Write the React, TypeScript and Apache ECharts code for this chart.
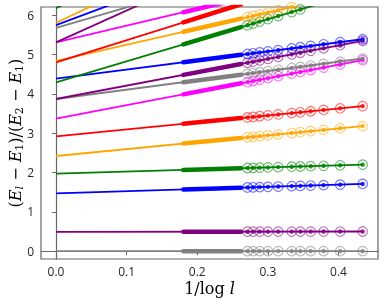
import React, { useEffect, useRef } from 'react';
import * as echarts from 'echarts';

const colors = ['#808080', '#800080', '#0000ff', '#008000', '#ffa500', '#ff0000', '#ff00ff'];

// x = 1/log l for l = 40, 36, 32, 28, 24, 20, 18, 16, 14, 12, 10
const circleX = [0.2711, 0.2791, 0.2885, 0.3001, 0.3147, 0.3338, 0.346, 0.3607, 0.3789, 0.4024, 0.4343];

// fitted straight lines, from x = 0 to x = 1/log 10
const fitX = [0, 0.4343];
const fitStart = [0.0, 0.49, 1.47, 1.97, 2.42, 2.92, 3.37, 3.87, 3.87, 4.39, 4.29, 4.84, 4.8, 5.31, 5.68, 5.31, 5.75, 6.18, 5.81];
const fitEnd = [0.0, 0.5, 1.71, 2.2, 3.18, 3.69, 4.86, 4.9, 5.35, 5.39, 6.62, 6.62, 7.25, 7.16, 7.94, 8.83, 8.66, 9.87, 9.46];

// dense data (l = 44 ... 256), drawn as a thick band
const bandX = [0.1803, 0.262];
const bandStart = [0.0, 0.494, 1.569, 2.066, 2.736, 3.239, 3.988, 4.296, 4.483, 4.805, 5.258, 5.579, 5.819, 6.076];
const bandEnd = [0.0, 0.495, 1.614, 2.109, 2.879, 3.384, 4.269, 4.488, 4.761, 4.993, 5.697, 5.914, 6.28, 6.424];

// circled points at l = 40 ... 10
const circleY = [
  [0, 0, 0, 0, 0, 0, 0, 0, 0, 0, 0],
  [0.495, 0.496, 0.496, 0.496, 0.496, 0.497, 0.497, 0.497, 0.498, 0.498, 0.499],
  [1.619, 1.624, 1.629, 1.635, 1.643, 1.654, 1.66, 1.668, 1.678, 1.691, 1.709],
  [2.114, 2.118, 2.123, 2.129, 2.137, 2.147, 2.153, 2.161, 2.171, 2.183, 2.2],
  [2.894, 2.908, 2.925, 2.945, 2.971, 3.004, 3.026, 3.051, 3.083, 3.124, 3.18],
  [3.4, 3.414, 3.431, 3.451, 3.477, 3.511, 3.532, 3.558, 3.591, 3.632, 3.689],
  [4.3, 4.327, 4.36, 4.399, 4.449, 4.515, 4.557, 4.607, 4.67, 4.75, 4.86],
  [4.51, 4.529, 4.551, 4.578, 4.613, 4.658, 4.687, 4.721, 4.764, 4.82, 4.895],
  [4.792, 4.819, 4.851, 4.89, 4.94, 5.005, 5.046, 5.096, 5.158, 5.238, 5.347],
  [5.014, 5.032, 5.054, 5.08, 5.114, 5.158, 5.186, 5.22, 5.261, 5.316, 5.389],
  [5.746, 5.789, 5.839, 5.902, 5.98, 6.082, 6.148, 6.227, 6.325, 6.451, 6.622],
  [5.952, 5.984, 6.023, 6.07, 6.13, 6.209, 6.259, 6.319, 6.393, 6.49, 6.621],
];

const xTicks = [0, 0.1, 0.2, 0.3, 0.4];
const yTicks = [0, 1, 2, 3, 4, 5, 6];

const axisColor = '#666666';
const labelColor = '#262626';
const serif = '"DejaVu Serif", "Liberation Serif", serif';

export default function App() {
  const ref = useRef<HTMLDivElement>(null);
  useEffect(() => {
    const chart = echarts.init(ref.current!, null, { renderer: 'svg' });
    const series: any[] = [];
    fitStart.forEach((y0, i) => {
      const c = colors[i % colors.length];
      if (i < bandStart.length) {
        series.push({
          type: 'line',
          data: [[bandX[0], bandStart[i]], [bandX[1], bandEnd[i]]],
          showSymbol: false,
          silent: true,
          lineStyle: { color: c, width: 4.5, cap: 'round' },
          z: 2,
        });
      }
      if (i < circleY.length) {
        const pts = circleX.map((x, k) => [x, circleY[i][k]]);
        series.push({
          type: 'scatter',
          data: pts,
          symbolSize: 9.5,
          silent: true,
          itemStyle: { color: 'rgba(255,255,255,0)', borderColor: c, borderWidth: 1.2, opacity: 0.55 },
          z: 2,
        });
        series.push({
          type: 'scatter',
          data: pts,
          symbolSize: 4.5,
          silent: true,
          itemStyle: { color: c },
          z: 3,
        });
      }
      series.push({
        type: 'line',
        data: [[fitX[0], y0], [fitX[1], fitEnd[i]]],
        showSymbol: false,
        silent: true,
        lineStyle: { color: c, width: 1.8 },
        z: 4,
      });
    });

    const yName =
      '{n|(}{i|E}{si|l}{n| − }{i|E}{s|1}{n|)/(}{i|E}{s|2}{n| − }{i|E}{s|1}{n|)}';

    chart.setOption({
      animation: false,
      grid: {
        left: 41,
        right: 7,
        top: 7,
        bottom: 41,
        containLabel: false,
        outerBoundsMode: 'none',
        show: true,
        borderColor: axisColor,
        borderWidth: 1.2,
      },
      xAxis: {
        type: 'value',
        min: -0.0213,
        max: 0.456,
        name: '{n|1/log }{i|l}',
        nameLocation: 'middle',
        nameGap: 20,
        nameMoveOverlap: false,
        nameTextStyle: {
          rich: {
            n: { fontFamily: serif, fontSize: 16, color: '#000', lineHeight: 19 },
            i: { fontFamily: serif, fontSize: 16, fontStyle: 'italic', color: '#000', lineHeight: 19 },
          },
        },
        axisLine: { show: true, lineStyle: { color: axisColor, width: 1.2 } },
        axisTick: { show: true, customValues: xTicks, length: 4, lineStyle: { color: axisColor, width: 1 } },
        axisLabel: {
          customValues: xTicks,
          formatter: (v: number) => v.toFixed(1),
          fontFamily: '"Open Sans", "DejaVu Sans", sans-serif',
          fontSize: 12,
          color: labelColor,
          margin: 6,
        },
        splitLine: { show: false },
      },
      yAxis: {
        type: 'value',
        min: -0.2,
        max: 6.21,
        name: yName,
        nameLocation: 'middle',
        nameRotate: 90,
        nameGap: 16,
        nameMoveOverlap: false,
        nameTextStyle: {
          rich: {
            n: { fontFamily: serif, fontSize: 16, color: '#000', lineHeight: 19 },
            i: { fontFamily: serif, fontSize: 16, fontStyle: 'italic', color: '#000', lineHeight: 19 },
            s: { fontFamily: serif, fontSize: 11, color: '#000', lineHeight: 11, verticalAlign: 'bottom' },
            si: { fontFamily: serif, fontSize: 11, fontStyle: 'italic', color: '#000', lineHeight: 11, verticalAlign: 'bottom' },
          },
        },
        axisLine: { show: true, lineStyle: { color: axisColor, width: 1.2 } },
        axisTick: { show: true, customValues: yTicks, length: 4, lineStyle: { color: axisColor, width: 1 } },
        axisLabel: {
          customValues: yTicks,
          formatter: (v: number) => String(v),
          fontFamily: '"Open Sans", "DejaVu Sans", sans-serif',
          fontSize: 12,
          color: labelColor,
          margin: 7,
        },
        splitLine: { show: false },
      },
      series,
    });
    return () => chart.dispose();
  }, []);
  return <div ref={ref} style={{ position: 'fixed', left: 0, top: 0, width: 385, height: 300 }} />;
}
